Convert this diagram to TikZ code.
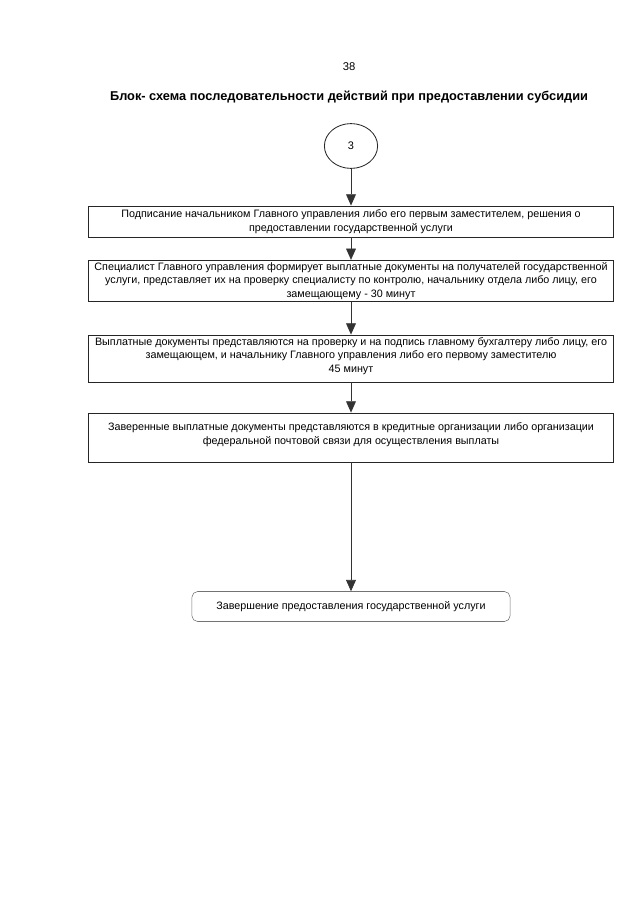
\documentclass[tikz,border=0pt]{standalone}
\usepackage{fontspec}
\setmainfont{Liberation Sans}
\usetikzlibrary{arrows.meta,shapes.geometric}

\begin{document}
\begin{tikzpicture}[x=0.025cm,y=-0.025cm,
        stage/.style={rectangle,draw=black!85,line width=0.6pt,
                      minimum width=13.125cm,align=center,inner sep=1.5pt,
                      font=\fontsize{7.65}{9.6}\selectfont},
        finish/.style={rectangle,rounded corners=4pt,draw=black!55,thin,
                       minimum width=7.95cm,minimum height=0.75cm,
                       font=\fontsize{7.65}{9.6}\selectfont},
        flow/.style={draw=black!80,line width=0.5pt,
                     -{Triangle[width=7pt,length=8pt]}}]
        \useasboundingbox (0,0) rectangle (640,905);
        \node[font=\fontsize{8}{9.6}\selectfont] (page) at (349,67) {38};
        \node[font=\fontsize{9.1}{11}\selectfont\bfseries] (title) at (349,97)
          {Блок- схема последовательности действий при предоставлении субсидии};
        \node[ellipse,draw=black!85,line width=0.6pt,minimum width=1.33cm,
              minimum height=1.12cm,font=\fontsize{7.8}{9.6}\selectfont]
          (num) at (351,146) {3};
        \node[stage,minimum height=0.775cm] (s1) at (351,221.5)
          {Подписание начальником Главного управления либо его первым заместителем, решения о\\
           предоставлении государственной услуги};
        \node[stage,minimum height=0.9cm] (s2) at (351,281)
          {Специалист Главного управления формирует выплатные документы на получателей государственной\\
           услуги, представляет их на проверку специалисту по контролю, начальнику отдела либо лицу, его\\
           замещающему - 30 минут};
        \node[stage,minimum height=1.125cm] (s3) at (351,358.5)
          {Выплатные документы представляются на проверку и на подпись главному бухгалтеру либо лицу, его\\
           замещающем, и начальнику Главного управления либо его первому заместителю\\
           45 минут\\[-4pt]\mbox{}};
        \node[stage,minimum height=1.225cm] (s4) at (351,437.5)
          {Заверенные выплатные документы представляются в кредитные организации либо организации\\
           федеральной почтовой связи для осуществления выплаты\\[-4pt]\mbox{}};
        \node[finish] (fin) at (351,606.5)
          {Завершение предоставления государственной услуги};
        \foreach \a/\b in {num/s1,s1/s2,s2/s3,s3/s4,s4/fin}
          \draw[flow] (\a) -- (\b);
      \end{tikzpicture}
\end{document}
